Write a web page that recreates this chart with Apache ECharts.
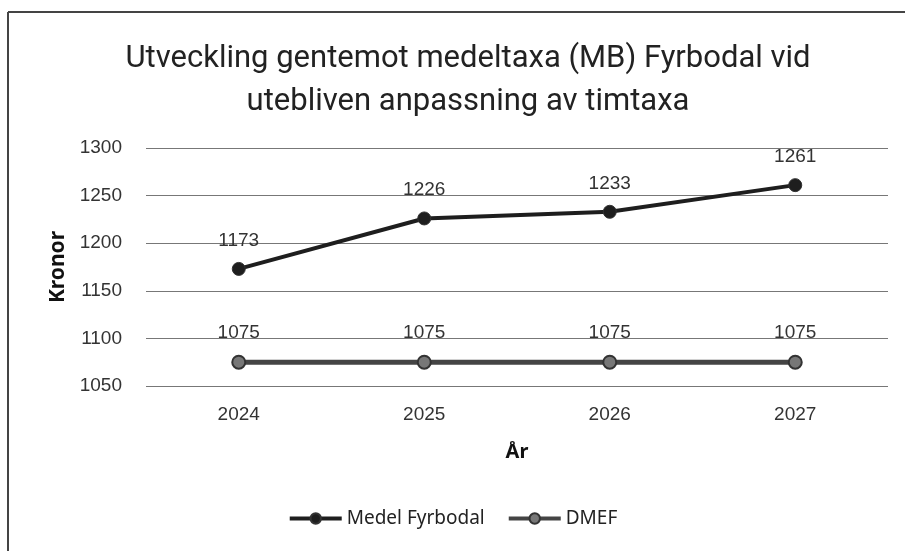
<!DOCTYPE html>
<html><head><meta charset="utf-8">
<script src="https://cdn.jsdelivr.net/npm/echarts@6/dist/echarts.min.js"></script>
<style>html,body{margin:0;padding:0;background:#fff}#c{width:905px;height:551px}</style>
</head><body><div id="c"></div>
<script>
const years = ['2024','2025','2026','2027'];
const medelFyrbodal = [1173, 1226, 1233, 1261];
const dmef = [1075, 1075, 1075, 1075];
const titleText = 'Utveckling gentemot medeltaxa (MB) Fyrbodal vid\nutebliven anpassning av timtaxa';

const chart = echarts.init(document.getElementById('c'));
const lbl = {show:true, position:'top', distance:12, color:'#333', fontSize:19, fontFamily:'Liberation Sans, Arial'};
chart.setOption({
  animation:false,
  backgroundColor:'#fff',
  graphic:[
    {type:'line', shape:{x1:8,y1:12,x2:905,y2:12}, style:{stroke:'#444', lineWidth:2}},
    {type:'line', shape:{x1:8,y1:12,x2:8,y2:551}, style:{stroke:'#444', lineWidth:2}}
  ],
  title:{text:titleText, left:463, top:33, textAlign:'center',
    textStyle:{fontFamily:'Roboto, Noto Sans', fontWeight:'normal', fontSize:31, color:'#222', lineHeight:43}},
  grid:{left:146, right:17, top:148, bottom:165},
  legend:{bottom:18, left:'center', itemWidth:52, itemHeight:13, itemGap:22,
    lineStyle:{width:4},
    textStyle:{fontFamily:'Noto Sans', fontSize:19, color:'#222'},
    data:['Medel Fyrbodal','DMEF']},
  xAxis:{type:'category', data:years, boundaryGap:true,
    name:'År', nameLocation:'middle', nameGap:56,
    nameTextStyle:{fontFamily:'Noto Sans', fontWeight:'bold', fontSize:20, color:'#111'},
    axisLine:{show:false}, axisTick:{show:false},
    axisLabel:{margin:19, color:'#333', fontSize:19, fontFamily:'Liberation Sans, Arial'}},
  yAxis:{type:'value', min:1050, max:1300, interval:50,
    name:'Kronor', nameLocation:'middle', nameGap:76, nameRotate:90,
    nameTextStyle:{fontFamily:'Noto Sans', fontWeight:'bold', fontSize:21, color:'#111'},
    axisLabel:{margin:24, color:'#333', fontSize:19, fontFamily:'Liberation Sans, Arial', formatter:v=>String(v)},
    splitLine:{lineStyle:{color:'#777', width:1.2}}},
  series:[
    {name:'Medel Fyrbodal', type:'line', data:medelFyrbodal, symbol:'circle', symbolSize:13,
      lineStyle:{color:'#1e1e1e', width:4}, itemStyle:{color:'#1e1e1e', borderColor:'#333', borderWidth:1},
      label:lbl},
    {name:'DMEF', type:'line', data:dmef, symbol:'circle', symbolSize:13,
      lineStyle:{color:'#444', width:5}, itemStyle:{color:'#777', borderColor:'#333', borderWidth:2},
      label:lbl}
  ]
});
</script></body></html>
